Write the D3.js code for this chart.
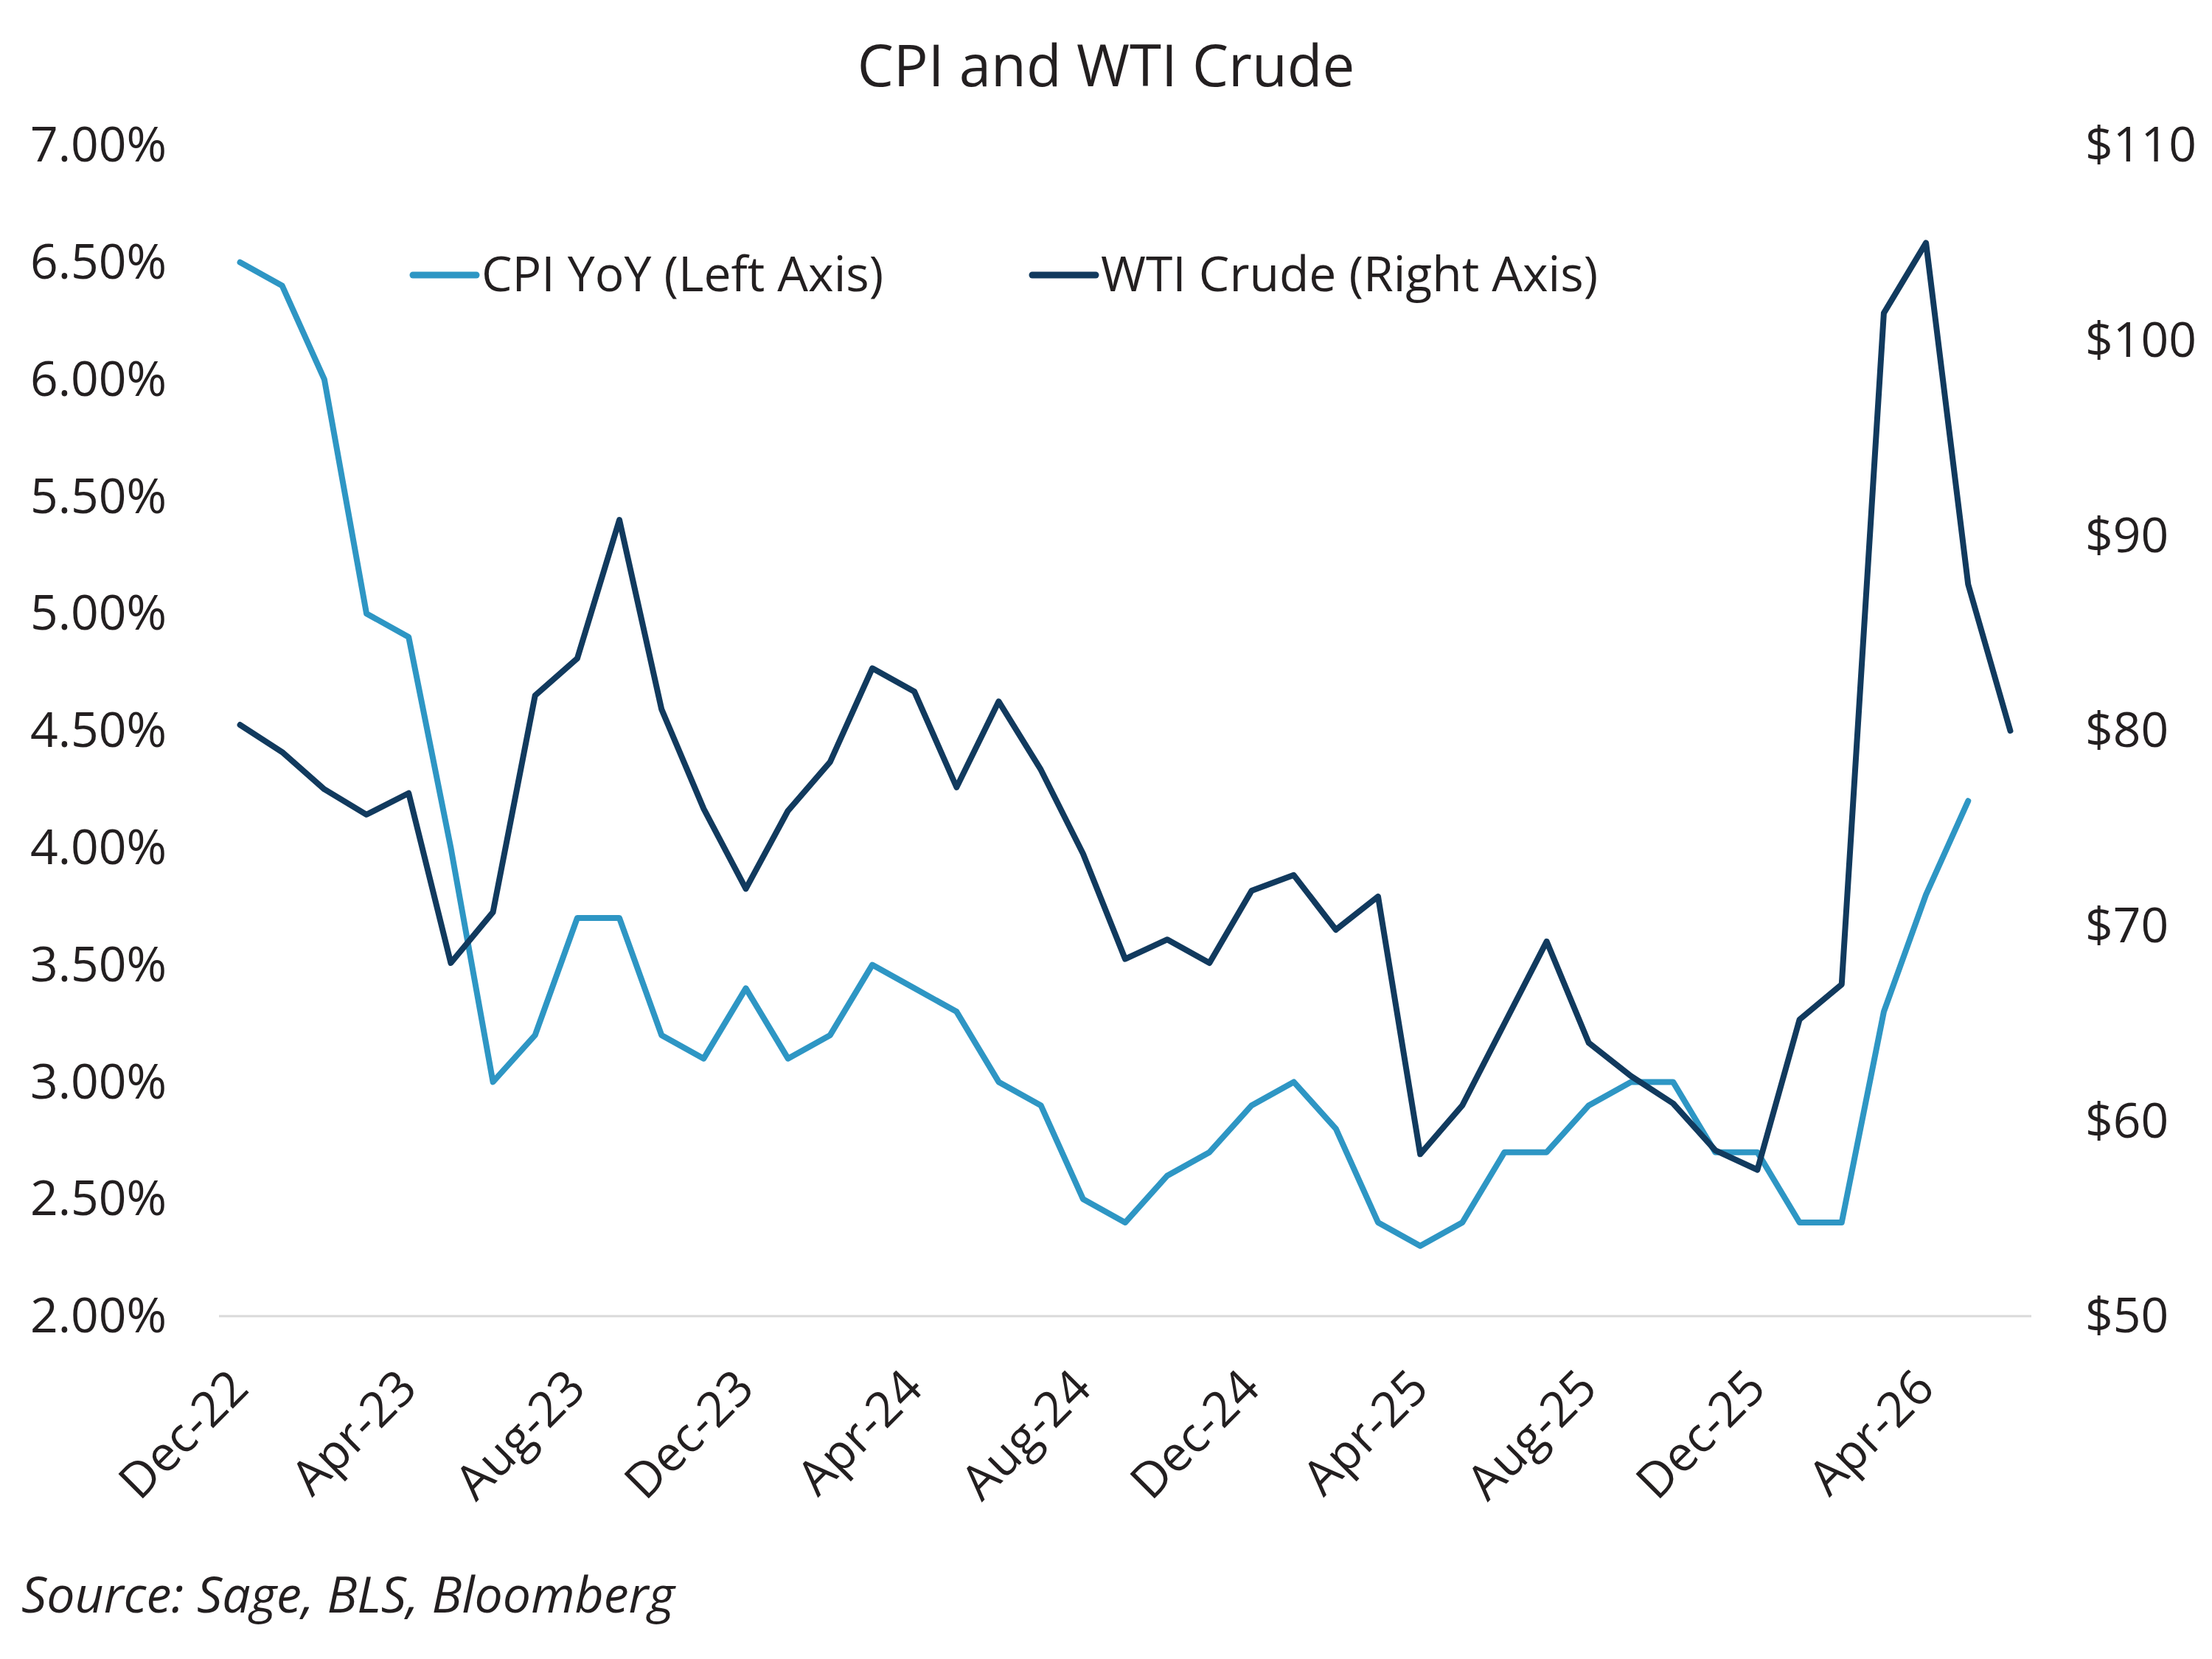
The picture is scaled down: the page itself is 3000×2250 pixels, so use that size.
<!DOCTYPE html>
<html lang="en">
<head>
    <meta charset="UTF-8">
    <title>CPI and WTI Crude</title>
    <style>
        body {
            margin: 0;
            background: #fff;
        }
        svg text {
            font-family: "Open Sans", "Noto Sans", sans-serif;
            fill: #231f20;
        }
    </style>
    <script src="https://d3js.org/d3.v7.min.js"></script>
</head>
<body>
    <svg id="chart" width="3000" height="2250"></svg>

    <script>
        // monthly categories, Dec-22 through Jun-26
        var months = [
            "Dec-22", "Jan-23", "Feb-23", "Mar-23", "Apr-23", "May-23", "Jun-23", "Jul-23", "Aug-23", "Sep-23", "Oct-23", "Nov-23",
            "Dec-23", "Jan-24", "Feb-24", "Mar-24", "Apr-24", "May-24", "Jun-24", "Jul-24", "Aug-24", "Sep-24", "Oct-24", "Nov-24",
            "Dec-24", "Jan-25", "Feb-25", "Mar-25", "Apr-25", "May-25", "Jun-25", "Jul-25", "Aug-25", "Sep-25", "Oct-25", "Nov-25",
            "Dec-25", "Jan-26", "Feb-26", "Mar-26", "Apr-26", "May-26", "Jun-26"
        ];

        // labels shown on the x axis
        var xTickLabels = ["Dec-22", "Apr-23", "Aug-23", "Dec-23", "Apr-24", "Aug-24", "Dec-24", "Apr-25", "Aug-25", "Dec-25", "Apr-26"];

        // CPI YoY in percent (ends May-26)
        var cpiYoY = [
            6.5, 6.4, 6.0, 5.0, 4.9, 4.0, 3.0, 3.2, 3.7, 3.7, 3.2, 3.1,
            3.4, 3.1, 3.2, 3.5, 3.4, 3.3, 3.0, 2.9, 2.5, 2.4, 2.6, 2.7,
            2.9, 3.0, 2.8, 2.4, 2.3, 2.4, 2.7, 2.7, 2.9, 3.0, 3.0, 2.7,
            2.7, 2.4, 2.4, 3.3, 3.8, 4.2
        ];

        // WTI crude, $ per barrel
        var wtiCrude = [
            80.3, 78.9, 77.0, 75.7, 76.8, 68.1, 70.7, 81.8, 83.7, 90.8, 81.1, 76.0,
            71.9, 75.9, 78.4, 83.2, 82.0, 77.1, 81.5, 78.0, 73.7, 68.3, 69.3, 68.1,
            71.8, 72.6, 69.8, 71.5, 58.3, 60.8, 65.0, 69.2, 64.0, 62.3, 60.9, 58.5,
            57.5, 65.2, 67.0, 101.4, 105.0, 87.5, 80.0
        ];

        var leftTicks = [2, 2.5, 3, 3.5, 4, 4.5, 5, 5.5, 6, 6.5, 7];
        var rightTicks = [50, 60, 70, 80, 90, 100, 110];

        var cpiColor = "#2e96c4";
        var wtiColor = "#113a5e";

        var svg = d3.select("#chart");

        svg.append("rect")
            .attr("width", 3000)
            .attr("height", 2250)
            .attr("fill", "#fff");

        var plotLeft = 297, plotRight = 2755, plotTop = 197, plotBottom = 1785;

        var x = d3.scalePoint()
            .domain(months)
            .range([plotLeft, plotRight])
            .padding(0.5);

        var yLeft = d3.scaleLinear()
            .domain([2, 7])
            .range([plotBottom, plotTop]);

        var yRight = d3.scaleLinear()
            .domain([50, 110])
            .range([plotBottom, plotTop]);

        // title
        svg.append("text")
            .attr("x", 1500)
            .attr("y", 117)
            .attr("text-anchor", "middle")
            .style("font-size", "78px")
            .text("CPI and WTI Crude");

        // bottom axis line
        svg.append("line")
            .attr("x1", plotLeft)
            .attr("x2", plotRight)
            .attr("y1", plotBottom)
            .attr("y2", plotBottom)
            .attr("stroke", "#d9d9d9")
            .attr("stroke-width", 3);

        // left axis
        var leftAxis = svg.append("g")
            .attr("transform", "translate(226,0)")
            .call(d3.axisLeft(yLeft)
                .tickValues(leftTicks)
                .tickSize(0)
                .tickPadding(0)
                .tickFormat(function (d) { return d.toFixed(2) + "%"; }));
        leftAxis.select(".domain").remove();
        leftAxis.selectAll("text")
            .attr("x", 0)
            .attr("dy", "0.33em")
            .attr("fill", "#231f20")
            .style("font-size", "66px")
            .style("font-family", null);

        // right axis
        var rightAxis = svg.append("g")
            .attr("transform", "translate(2828,0)")
            .call(d3.axisRight(yRight)
                .tickValues(rightTicks)
                .tickSize(0)
                .tickPadding(0)
                .tickFormat(function (d) { return "$" + d; }));
        rightAxis.select(".domain").remove();
        rightAxis.selectAll("text")
            .attr("x", 0)
            .attr("dy", "0.33em")
            .attr("fill", "#231f20")
            .style("font-size", "66px")
            .style("font-family", null);

        // x axis labels, rotated
        var xAxis = svg.append("g")
            .attr("transform", "translate(0," + plotBottom + ")")
            .call(d3.axisBottom(x)
                .tickValues(xTickLabels)
                .tickSize(0));
        xAxis.select(".domain").remove();
        xAxis.selectAll("text")
            .attr("x", 0)
            .attr("y", 0)
            .attr("dy", null)
            .attr("text-anchor", "end")
            .attr("transform", "translate(14,101) rotate(-45)")
            .attr("fill", "#231f20")
            .style("font-size", "66px")
            .style("font-family", null);

        // lines
        var cpiLine = d3.line()
            .x(function (d, i) { return x(months[i]); })
            .y(function (d) { return yLeft(d); });

        var wtiLine = d3.line()
            .x(function (d, i) { return x(months[i]); })
            .y(function (d) { return yRight(d); });

        svg.append("path")
            .datum(cpiYoY)
            .attr("d", cpiLine)
            .attr("fill", "none")
            .attr("stroke", cpiColor)
            .attr("stroke-width", 8)
            .attr("stroke-linejoin", "round")
            .attr("stroke-linecap", "round");

        svg.append("path")
            .datum(wtiCrude)
            .attr("d", wtiLine)
            .attr("fill", "none")
            .attr("stroke", wtiColor)
            .attr("stroke-width", 8)
            .attr("stroke-linejoin", "round")
            .attr("stroke-linecap", "round");

        // legend
        var legendItems = [
            { label: "CPI YoY (Left Axis)", color: cpiColor, x: 560 },
            { label: "WTI Crude (Right Axis)", color: wtiColor, x: 1400 }
        ];
        var legend = svg.selectAll(".legend-item")
            .data(legendItems)
            .enter()
            .append("g")
            .attr("class", "legend-item")
            .attr("transform", function (d) { return "translate(" + d.x + ",373)"; });
        legend.append("line")
            .attr("x1", 0)
            .attr("x2", 86)
            .attr("y1", 0)
            .attr("y2", 0)
            .attr("stroke", function (d) { return d.color; })
            .attr("stroke-width", 9)
            .attr("stroke-linecap", "round");
        legend.append("text")
            .attr("x", 93)
            .attr("dy", "0.34em")
            .style("font-size", "66px")
            .text(function (d) { return d.label; });

        // source note
        svg.append("text")
            .attr("x", 29)
            .attr("y", 2187)
            .style("font-size", "68px")
            .style("font-style", "italic")
            .text("Source: Sage, BLS, Bloomberg");
    </script>
</body>
</html>
